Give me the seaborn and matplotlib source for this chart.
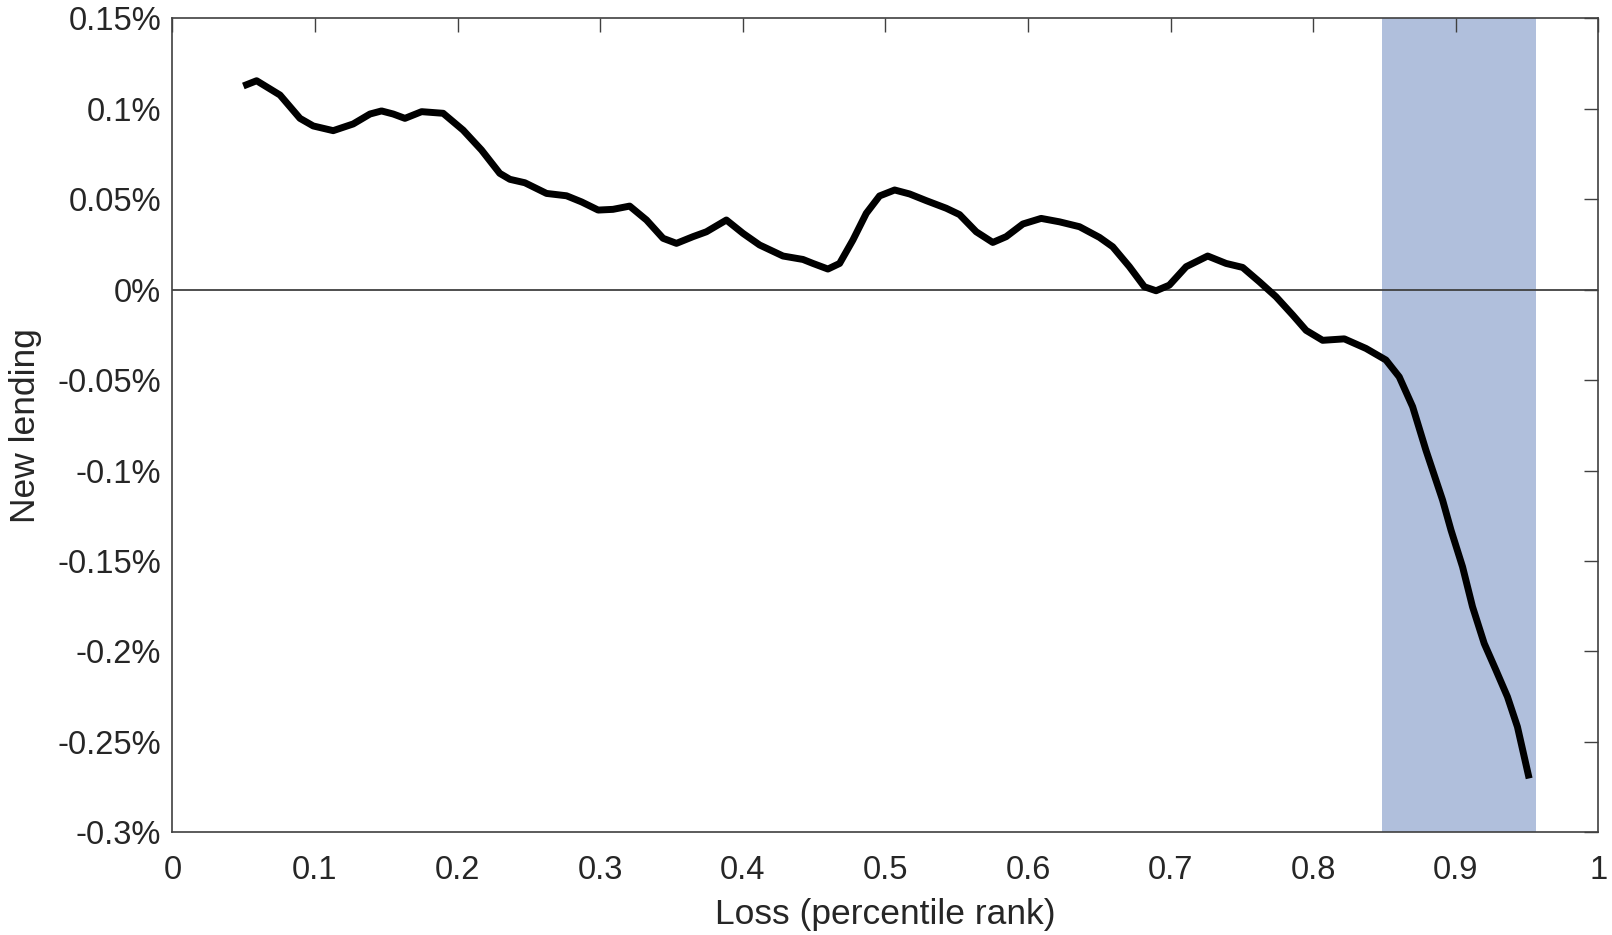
import numpy as np
import pandas as pd
import seaborn as sns
import matplotlib.pyplot as plt

# loss percentile rank and new lending (in %)
loss_rank = [0.0498, 0.0591, 0.0755, 0.0895, 0.0988, 0.1128, 0.1268, 0.1386, 0.1467, 0.1549,
             0.1631, 0.1748, 0.1899, 0.2039, 0.2168, 0.2296, 0.2367, 0.2472, 0.2624, 0.2764,
             0.2870, 0.2986, 0.3090, 0.3207, 0.3325, 0.3441, 0.3535, 0.3651, 0.3745, 0.3885,
             0.4002, 0.4118, 0.4282, 0.4422, 0.4492, 0.4597, 0.4679, 0.4772, 0.4866, 0.4959,
             0.5065, 0.5170, 0.5287, 0.5427, 0.5520, 0.5637, 0.5753, 0.5847, 0.5964, 0.6092,
             0.6221, 0.6361, 0.6501, 0.6594, 0.6711, 0.6816, 0.6898, 0.6991, 0.7109, 0.7260,
             0.7389, 0.7505, 0.7622, 0.7739, 0.7856, 0.7950, 0.8066, 0.8218, 0.8370, 0.8510,
             0.8603, 0.8697, 0.8790, 0.8907, 0.8966, 0.9047, 0.9117, 0.9199, 0.9281, 0.9362,
             0.9432, 0.9514]
new_lending = [0.1126, 0.1155, 0.1076, 0.0947, 0.0905, 0.0879, 0.0916, 0.0971, 0.0988, 0.0971,
               0.0947, 0.0984, 0.0975, 0.0882, 0.0772, 0.0643, 0.0610, 0.0591, 0.0532, 0.0519,
               0.0485, 0.0440, 0.0444, 0.0462, 0.0385, 0.0284, 0.0256, 0.0293, 0.0320, 0.0385,
               0.0311, 0.0247, 0.0186, 0.0167, 0.0145, 0.0114, 0.0145, 0.0274, 0.0422, 0.0518,
               0.0551, 0.0529, 0.0492, 0.0450, 0.0415, 0.0320, 0.0261, 0.0293, 0.0363, 0.0394,
               0.0375, 0.0348, 0.0289, 0.0237, 0.0127, 0.0016, -0.0006, 0.0025, 0.0127, 0.0186,
               0.0145, 0.0123, 0.0044, -0.0039, -0.0140, -0.0225, -0.0280, -0.0272, -0.0325, -0.0389,
               -0.0482, -0.0647, -0.0887, -0.1163, -0.1329, -0.1532, -0.1753, -0.1956, -0.2103, -0.2251,
               -0.2417, -0.2702]

# shaded band of loss ranks
band = [0.848, 0.956]

x_ticks = [0, 0.1, 0.2, 0.3, 0.4, 0.5, 0.6, 0.7, 0.8, 0.9, 1]
y_ticks = [-0.3, -0.25, -0.2, -0.15, -0.1, -0.05, 0, 0.05, 0.1, 0.15]

df = pd.DataFrame({"loss": loss_rank, "lending": new_lending})

sns.set_style("white")
plt.rcParams["font.family"] = ["Liberation Sans", "DejaVu Sans"]

fig = plt.figure(figsize=(16.12, 9.35), dpi=100)
ax = fig.add_axes([0.1069, 0.1098, 0.8847, 0.8706])

ax.axvspan(band[0], band[1], color="#b0bfdc", lw=0, zorder=0)
ax.axhline(0, color="#404040", lw=1.3, zorder=1)
sns.lineplot(data=df, x="loss", y="lending", ax=ax, color="black", lw=5.0,
             solid_capstyle="butt", solid_joinstyle="round", zorder=3)

ax.set_xlim(0, 1)
ax.set_ylim(-0.3, 0.15)
ax.set_xticks(x_ticks)
ax.set_xticklabels([f"{t:g}" for t in x_ticks])
ax.set_yticks(y_ticks)
ax.set_yticklabels([f"{t:g}%" for t in y_ticks])

ax.tick_params(direction="in", length=10, width=1, color="#404040", labelsize=23.5,
               labelcolor="#262626", top=True, right=True)
ax.tick_params(axis="x", pad=16)
ax.tick_params(axis="y", pad=8)
for s in ax.spines.values():
    s.set_color("#404040")
    s.set_linewidth(1.2)

ax.set_xlabel("Loss (percentile rank)", fontsize=25.5, color="#262626", labelpad=9)
ax.set_ylabel("New lending", fontsize=25.5, color="#262626", labelpad=11)

fig.savefig("out.png", dpi=100)
